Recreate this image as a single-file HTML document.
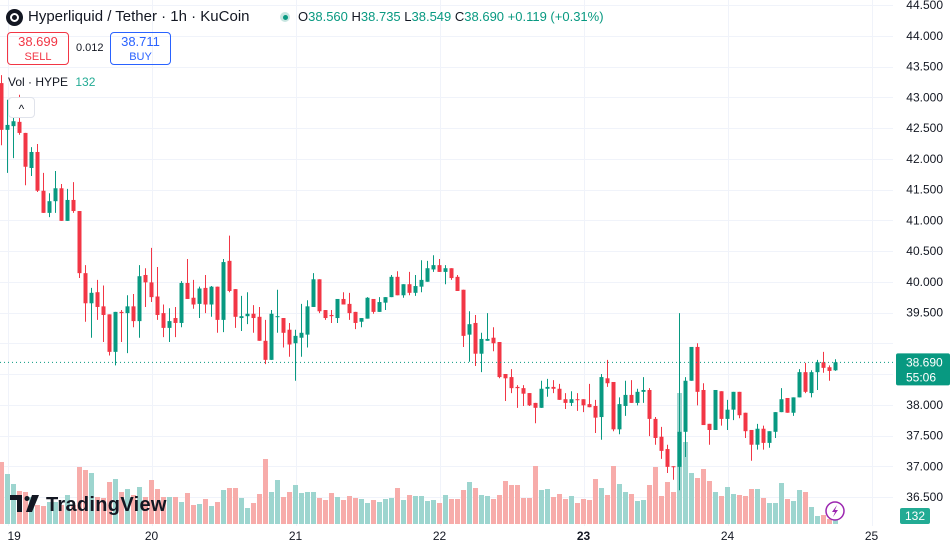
<!DOCTYPE html>
<html><head><meta charset="utf-8">
<style>
html,body{margin:0;padding:0;background:#fff;width:950px;height:551px;overflow:hidden;font-family:"Liberation Sans",sans-serif;}
#wrap{position:relative;width:950px;height:551px;}
svg{position:absolute;left:0;top:0;}
.hdr{position:absolute;left:28px;top:8px;font-size:15px;color:#131722;white-space:nowrap;}
.ohlc{position:absolute;left:298px;top:9px;font-size:13px;color:#131722;white-space:nowrap;}
.ohlc b{font-weight:normal;color:#089981;}
.box{position:absolute;border-radius:4px;text-align:center;font-size:12px;line-height:14px;padding-top:2px;box-sizing:border-box;}
</style></head>
<body>
<div id="wrap">
<svg id="chart" width="950" height="551"></svg>
<div style="position:absolute;left:6px;top:9px;width:17px;height:17px;border-radius:50%;background:#131722;">
  <div style="position:absolute;left:4px;top:4px;width:9px;height:9px;border-radius:50%;border:2px solid #fff;box-sizing:border-box;"></div>
</div>
<div class="hdr">Hyperliquid / Tether · 1h · KuCoin</div>
<div style="position:absolute;left:280px;top:12px;width:10px;height:10px;border-radius:50%;background:#c8e6e1;"><div style="position:absolute;left:2.5px;top:2.5px;width:5px;height:5px;border-radius:50%;background:#089981;"></div></div>
<div class="ohlc">O<b>38.560</b> H<b>38.735</b> L<b>38.549</b> C<b>38.690</b> <b>+0.119 (+0.31%)</b></div>
<div class="box" style="left:7px;top:32px;width:62px;height:33px;border:1px solid #f23645;color:#f23645;"><span style="font-size:13px">38.699</span><br><span style="font-size:11px">SELL</span></div>
<div style="position:absolute;left:76px;top:42px;font-size:11px;color:#131722;">0.012</div>
<div class="box" style="left:110px;top:32px;width:61px;height:33px;border:1px solid #2962ff;color:#2962ff;"><span style="font-size:13px">38.711</span><br><span style="font-size:11px">BUY</span></div>
<div style="position:absolute;left:8px;top:75px;font-size:12px;color:#131722;">Vol · HYPE <span style="color:#22ab94;margin-left:4px">132</span></div>
<div style="position:absolute;left:8px;top:97px;width:27px;height:21px;border:1px solid #e0e3eb;border-radius:4px;background:#fff;box-sizing:border-box;text-align:center;font-size:12px;line-height:22px;color:#131722;">^</div>
</div>
<script>
const opens=[43.23,42.47,42.53,42.60,42.42,41.85,42.11,41.48,41.12,41.31,41.52,40.99,41.33,41.15,40.14,39.65,39.83,39.60,39.47,38.86,39.51,39.49,39.60,39.36,40.11,39.99,39.76,39.49,39.25,39.41,39.33,39.98,39.74,39.64,39.90,39.63,39.92,39.38,40.34,39.88,39.41,39.44,39.48,39.43,39.04,38.73,39.43,39.41,39.22,39.00,39.09,39.14,39.59,40.04,39.54,39.46,39.41,39.72,39.64,39.51,39.35,39.40,39.72,39.51,39.66,39.75,40.08,39.78,39.96,39.82,39.92,40.00,40.20,40.27,40.16,40.22,40.08,39.87,39.14,39.33,38.83,39.04,39.09,39.02,38.50,38.45,38.29,38.27,38.19,38.03,37.95,38.26,38.29,38.26,38.09,38.03,38.09,38.09,38.01,37.98,37.80,38.43,38.37,37.60,37.98,38.16,38.03,38.21,38.24,37.77,37.48,37.28,37.00,36.99,37.56,38.39,38.94,38.24,37.69,37.59,38.22,37.77,37.92,38.21,37.87,37.59,37.35,37.61,37.38,37.56,37.88,38.11,37.87,38.12,38.53,38.19,38.53,38.69,38.61,38.56];
const highs=[43.36,42.96,42.96,43.04,42.42,42.19,42.24,41.77,41.44,41.80,41.59,41.51,41.62,41.15,40.27,39.90,40.03,39.94,39.47,39.51,39.54,39.78,39.80,40.27,40.22,40.55,40.24,39.63,39.57,39.59,40.01,40.37,40.03,39.92,40.11,39.93,39.92,40.37,40.75,39.88,39.77,39.83,39.62,39.59,39.38,39.54,39.87,39.41,39.33,39.22,39.64,39.70,40.14,40.04,39.54,39.54,39.72,39.83,39.82,39.51,39.41,39.75,39.72,39.75,39.75,40.11,40.17,39.96,40.16,40.11,40.35,40.34,40.43,40.37,40.27,40.22,40.11,39.87,39.52,39.46,39.17,39.49,39.26,39.02,38.50,38.58,38.32,38.32,38.19,38.03,38.39,38.42,38.40,38.34,38.19,38.22,38.19,38.09,38.34,38.08,38.50,38.73,38.37,38.12,38.39,38.40,38.26,38.45,38.27,37.80,37.64,37.35,37.00,39.49,38.45,38.94,39.00,38.35,37.69,38.24,38.22,38.08,38.21,38.21,37.87,37.59,37.69,37.66,37.57,37.88,38.27,38.11,38.12,38.58,38.68,38.56,38.73,38.86,38.64,38.74];
const lows=[42.22,41.77,42.01,42.39,41.57,41.72,41.46,41.12,41.05,41.12,40.99,40.99,41.12,40.06,39.35,39.09,39.38,39.02,38.80,38.64,39.02,38.84,39.26,39.09,39.59,39.67,39.38,39.10,39.02,39.10,39.26,39.72,39.56,39.41,39.49,39.43,39.17,39.18,39.83,39.25,39.20,39.31,39.17,39.04,38.66,38.73,39.17,38.93,38.78,38.39,38.78,38.93,39.59,39.49,39.38,39.33,39.33,39.63,39.38,39.23,39.26,39.40,39.48,39.51,39.54,39.75,39.78,39.74,39.78,39.77,39.83,40.00,40.16,40.16,39.96,40.03,39.85,38.94,38.70,38.63,38.53,39.04,38.87,38.43,38.06,38.19,37.95,37.98,37.98,37.70,37.95,38.13,38.19,38.08,37.93,37.98,37.90,37.88,37.96,37.54,37.43,38.29,37.57,37.52,37.82,38.03,37.99,38.03,37.49,37.35,37.12,36.89,36.78,36.61,37.15,38.39,37.99,37.67,37.35,37.59,37.66,37.59,37.75,37.78,37.46,37.09,37.27,37.27,37.30,37.46,37.88,37.87,37.82,38.12,38.19,38.12,38.24,38.52,38.39,38.55];
const closes=[42.47,42.55,42.61,42.42,41.87,42.11,41.48,41.12,41.31,41.52,40.99,41.33,41.15,40.14,39.65,39.82,39.59,39.46,38.86,39.51,39.49,39.60,39.36,40.09,39.99,39.75,39.46,39.25,39.36,39.33,39.98,39.72,39.63,39.89,39.63,39.92,39.38,40.32,39.85,39.43,39.44,39.48,39.41,39.04,38.73,39.48,39.44,39.17,38.98,39.12,39.17,39.60,40.04,39.52,39.41,39.44,39.72,39.63,39.49,39.33,39.41,39.74,39.51,39.67,39.75,40.08,39.78,39.96,39.82,39.93,40.03,40.22,40.27,40.16,40.22,40.06,39.85,39.12,39.31,38.83,39.07,39.07,39.00,38.45,38.43,38.27,38.27,38.18,37.99,37.95,38.26,38.29,38.26,38.08,38.03,38.09,38.08,37.99,37.96,37.79,38.45,38.35,37.60,38.01,38.16,38.03,38.21,38.24,37.77,37.46,37.25,36.99,36.99,37.56,38.39,38.94,38.21,37.67,37.59,38.24,37.77,37.92,38.21,37.83,37.57,37.35,37.61,37.38,37.57,37.88,38.09,37.87,38.12,38.53,38.21,38.53,38.69,38.60,38.55,38.69];
const volumes=[1240,1000,800,660,640,540,380,360,440,440,380,580,380,1140,1080,1020,540,520,840,900,640,700,580,740,540,880,700,540,540,540,440,620,380,400,500,360,440,680,720,720,520,320,420,600,1300,640,880,540,640,780,620,640,640,520,480,620,540,480,560,520,500,420,480,440,500,520,720,480,580,560,560,460,480,420,580,500,500,680,840,720,580,560,500,580,860,780,780,520,520,1160,680,700,540,600,500,560,420,500,480,900,720,580,1160,800,640,600,460,480,780,1140,560,840,640,2620,1640,1020,920,1100,860,640,560,740,600,580,560,700,700,520,420,420,820,500,460,680,640,340,160,180,100,132];
const priceTicks=["44.500","44.000","43.500","43.000","42.500","42.000","41.500","41.000","40.500","40.000","39.500","39.000","38.500","38.000","37.500","37.000","36.500"];
const dayLabels=["19","20","21","22","23","24","25"];
const lastPrice=38.690;

const NS="http://www.w3.org/2000/svg";
const svg=document.getElementById('chart');
function yP(p){return 5+(44.5-p)*61.5;}
function xI(i){return 1.5+6*i;}
function yV(v){return 524-v/20;}
function el(tag,attrs,parent){const e=document.createElementNS(NS,tag);for(const k in attrs)e.setAttribute(k,attrs[k]);(parent||svg).appendChild(e);return e;}

const grid=el('g',{});


priceTicks.forEach(t=>{const y=Math.round(yP(parseFloat(t)))+0.5;el('line',{x1:0,x2:893,y1:y,y2:y,stroke:'#f0f3fa','stroke-width':1},grid);});
dayLabels.forEach((d,k)=>{const x=Math.round(xI(1+24*k))+0.5;el('line',{x1:x,x2:x,y1:0,y2:526,stroke:'#f0f3fa','stroke-width':1},grid);});

const vg=el('g',{});


volumes.forEach((v,i)=>{const up=closes[i]>=opens[i];const y=yV(v);
  const r=el('rect',{x:xI(i)-2.5,y:y,width:5,height:524-y,fill:up?'#9dd5cf':'#f7acaa'},vg);
  
  });

const cg=el('g',{});


opens.forEach((o,i)=>{const c=closes[i];const up=c>=o;const col=up?'#089981':'#f23645';const x=xI(i);
  const g=el('g',{},cg);
  
  
  el('line',{x1:x,x2:x,y1:yP(highs[i]),y2:yP(lows[i]),stroke:col,'stroke-width':1},g);
  const t=yP(Math.max(o,c)),b=yP(Math.min(o,c));
  el('rect',{x:x-2,y:t,width:4,height:Math.max(1,b-t),fill:col},g);});

const ly=yP(lastPrice);
const pl=el('line',{x1:0,x2:893,y1:ly,y2:ly,stroke:'#089981','stroke-width':1,'stroke-dasharray':'1,3'});



const ax=el('g',{});


priceTicks.forEach(t=>{const y=yP(parseFloat(t));if(Math.abs(y-ly)<20)return;
  const tx=el('text',{x:943,y:y+4,'text-anchor':'end','font-size':12,fill:'#131722','font-family':'Liberation Sans, sans-serif'},ax);tx.textContent=t;});
const lb=el('g',{});


el('rect',{x:896,y:ly-9,width:54,height:32,rx:2,fill:'#089981'},lb);
const t1=el('text',{x:906,y:ly+4,'font-size':12,fill:'#fff','font-family':'Liberation Sans, sans-serif'},lb);t1.textContent=lastPrice.toFixed(3);
const t2=el('text',{x:906,y:ly+19,'font-size':12,fill:'#fff','font-family':'Liberation Sans, sans-serif'},lb);t2.textContent='55:06';
const vb=el('g',{});


el('rect',{x:900,y:508,width:30,height:16,rx:2,fill:'#22ab94'},vb);
const t3=el('text',{x:915,y:520,'text-anchor':'middle','font-size':12,fill:'#fff','font-family':'Liberation Sans, sans-serif'},vb);t3.textContent=String(volumes[volumes.length-1]);

const tg=el('g',{});


dayLabels.forEach((d,k)=>{const x=xI(1+24*k);
  const tx=el('text',{x:k===0?Math.max(x,1):x,y:540,'text-anchor':k===0?'start':'middle','font-size':12,fill:'#131722','font-weight':d==='23'?'bold':'normal','font-family':'Liberation Sans, sans-serif'},tg);tx.textContent=d;});

const logo=el('g',{});


el('path',{d:'M10 495 h12 v17 h-5 v-12 h-7 z',fill:'#131722'},logo);
el('circle',{cx:27,cy:498.5,r:2.5,fill:'#131722'},logo);
el('path',{d:'M32 495 h7 l-7 17 h-6 z',fill:'#131722'},logo);
const lt=el('text',{x:46,y:511,'font-size':20,'font-weight':'bold','letter-spacing':'0.3',fill:'#131722','font-family':'Liberation Sans, sans-serif'},logo);lt.textContent='TradingView';

const bolt=el('g',{});


el('circle',{cx:835,cy:511,r:9,fill:'#fff',stroke:'#9c27b0','stroke-width':1.5},bolt);
el('path',{d:'M837 505 l-5 7 h3 l-2 5 l5 -7 h-3 z',fill:'#9c27b0'},bolt);
</script>
</body></html>
